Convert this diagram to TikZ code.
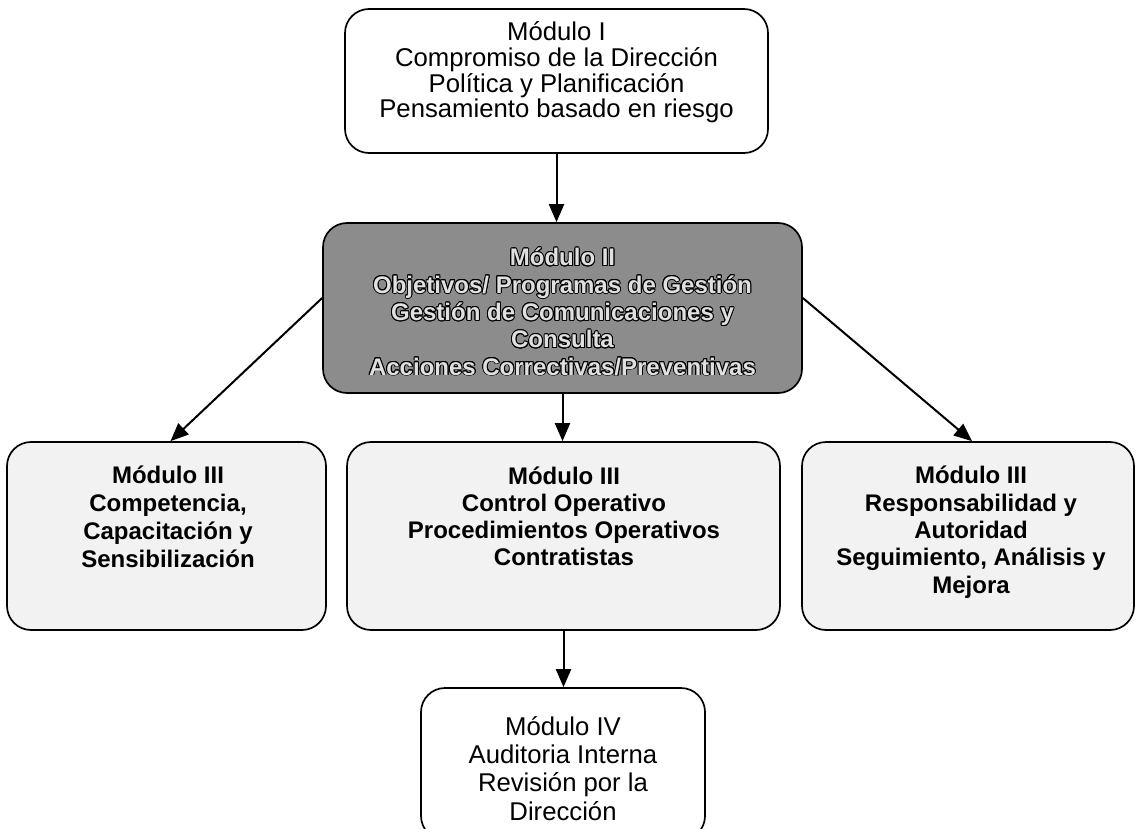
\documentclass[tikz,border=0pt]{standalone}
\usepackage{fontspec}
\setmainfont{Liberation Sans}
\usepackage{contour}
\contourlength{0.9pt}
\usetikzlibrary{arrows.meta}
\begin{document}
\begin{tikzpicture}[x=1pt,y=-1pt,
  box/.style={draw=black, line width=1.7pt, rounded corners=24pt, inner sep=0pt},
  whitebox/.style={box, fill=white},
  darkbox/.style={box, fill=black!45},
  lightbox/.style={box, fill=black!5},
  arr/.style={line width=2pt, -{Triangle[length=18pt,width=15pt]}},
  reg/.style={anchor=base, align=center, inner sep=0pt, font=\fontsize{25.7}{25.8}\selectfont},
  bld/.style={anchor=base, align=center, inner sep=0pt, font=\bfseries\fontsize{24}{27}\selectfont},
]
\useasboundingbox (0,0) rectangle (1137,829);

\node[whitebox, minimum width=423pt, minimum height=144pt] (b1) at (556.5,81) {};
\node[darkbox, minimum width=479pt, minimum height=170pt] (b2) at (562.5,308) {};
\node[lightbox, minimum width=319pt, minimum height=188pt] (b3a) at (166.5,536) {};
\node[lightbox, minimum width=433pt, minimum height=188pt] (b3b) at (563.5,536) {};
\node[lightbox, minimum width=332pt, minimum height=188pt] (b3c) at (968,536) {};
\node[whitebox, minimum width=284pt, minimum height=152pt] (b4) at (563,764) {};

\node[reg] (t1) at (556.5,118) {Módulo I\\Compromiso de la Dirección\\Política y Planificación\\Pensamiento basado en riesgo};
\node[bld, font=\bfseries\fontsize{24}{27.3}\selectfont, text=black!12] (t2) at (562.5,375)
  {\contour{black}{Módulo II}\\\contour{black}{Objetivos/ Programas de Gestión}\\\contour{black}{Gestión de Comunicaciones y}\\\contour{black}{Consulta}\\\contour{black}{Acciones Correctivas/Preventivas}};
\node[bld, font=\bfseries\fontsize{24}{28}\selectfont] (t3a) at (168,567) {Módulo III\\Competencia,\\Capacitación y\\Sensibilización};
\node[bld, font=\bfseries\fontsize{24}{26.7}\selectfont] (t3b) at (564,565) {Módulo III\\Control Operativo\\Procedimientos Operativos\\Contratistas};
\node[bld, font=\bfseries\fontsize{24}{27.3}\selectfont] (t3c) at (971,593) {Módulo III\\Responsabilidad y\\Autoridad\\Seguimiento, Análisis y\\Mejora};
\node[reg, font=\fontsize{25.7}{28.3}\selectfont] (t4) at (563,820) {Módulo IV\\Auditoria Interna\\Revisión por la\\Dirección};

\draw[arr] (b1.south) -- (b1.south |- b2.north);
\draw[arr] ([yshift=10pt]b2.west) -- ([xshift=4pt]b3a.north);
\draw[arr] ([yshift=10pt]b2.east) -- ([xshift=4pt]b3c.north);
\draw[arr] (b2.south) -- (b2.south |- b3b.north);
\draw[arr] (b3b.south) -- (b3b.south |- b4.north);
\end{tikzpicture}
\end{document}
